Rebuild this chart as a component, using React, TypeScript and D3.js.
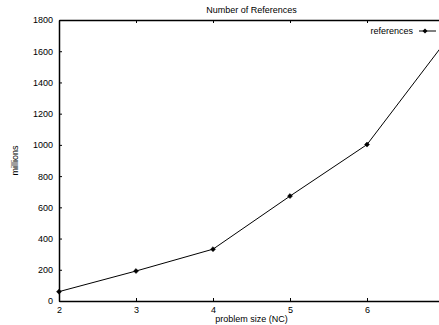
import React, { useEffect, useRef } from "react";
import * as d3 from "d3";

const problemSizes = [2, 3, 4, 5, 6, 7];
const references = [60, 192, 332, 672, 1002, 1650];
const yTicks = [0, 200, 400, 600, 800, 1000, 1200, 1400, 1600, 1800];
const xTicks = [2, 3, 4, 5, 6];

const App: React.FC = () => {
  const svgRef = useRef<SVGSVGElement | null>(null);

  useEffect(() => {
    const svg = d3.select(svgRef.current);
    svg.selectAll("*").remove();

    const w = 439;
    const h = 325;
    const m = { top: 20, right: -5, bottom: 24, left: 59 };
    const font = "'Liberation Sans', Arial, sans-serif";

    const x = d3.scaleLinear().domain([2, 7]).range([m.left, w - m.right]);
    const y = d3.scaleLinear().domain([0, 1800]).range([h - m.bottom, m.top]);

    svg.append("rect").attr("width", w).attr("height", h).attr("fill", "#fff");

    // left axis with inward ticks
    const left = svg.append("g")
      .attr("transform", `translate(${m.left},0)`)
      .call(d3.axisLeft(y).tickValues(yTicks).tickFormat(d3.format("d")).tickSizeInner(-3).tickSizeOuter(0).tickPadding(6));

    // bottom axis
    const bottom = svg.append("g")
      .attr("transform", `translate(0,${h - m.bottom})`)
      .call(d3.axisBottom(x).tickValues(xTicks).tickFormat(d3.format("d")).tickSizeInner(-3).tickSizeOuter(0).tickPadding(6));

    // top mirror
    const top = svg.append("g")
      .attr("transform", `translate(0,${m.top})`)
      .call(d3.axisTop(x).tickValues(xTicks).tickSizeInner(-3).tickSizeOuter(0).tickFormat(() => ""));

    [left, bottom, top].forEach(g => {
      g.select(".domain").attr("stroke", "#000").attr("stroke-width", 1.5);
      g.selectAll(".tick line").attr("stroke", "#000");
      g.selectAll(".tick text")
        .attr("fill", "#000")
        .style("font-family", font)
        .style("font-size", "9px");
    });

    // title + axis labels
    svg.append("text")
      .attr("x", (m.left + w - m.right) / 2)
      .attr("y", 13)
      .attr("text-anchor", "middle")
      .style("font-family", font)
      .style("font-size", "9px")
      .text("Number of References");

    svg.append("text")
      .attr("x", (m.left + w - m.right) / 2)
      .attr("y", 322)
      .attr("text-anchor", "middle")
      .style("font-family", font)
      .style("font-size", "9px")
      .text("problem size (NC)");

    svg.append("text")
      .attr("transform", `translate(18,${(m.top + h - m.bottom) / 2}) rotate(-90)`)
      .attr("text-anchor", "middle")
      .style("font-family", font)
      .style("font-size", "9px")
      .text("millions");

    // data line
    const pts = problemSizes.map((p, i) => [p, references[i]] as [number, number]);
    const line = d3.line<[number, number]>().x(d => x(d[0])).y(d => y(d[1]));

    svg.append("path")
      .datum(pts)
      .attr("fill", "none")
      .attr("stroke", "#000")
      .attr("stroke-width", 1)
      .attr("d", line);

    const sym = d3.symbol().type(d3.symbolDiamond2).size(16);
    svg.selectAll(".pt")
      .data(pts)
      .enter()
      .append("path")
      .attr("class", "pt")
      .attr("transform", d => `translate(${x(d[0])},${y(d[1])})`)
      .attr("d", sym)
      .attr("fill", "#000")
      .attr("stroke", "#000")
      .attr("stroke-width", 0.5);

    // legend
    const key = svg.append("g").attr("transform", `translate(0,31)`);
    key.append("text")
      .attr("x", 413)
      .attr("y", 3)
      .attr("text-anchor", "end")
      .style("font-family", font)
      .style("font-size", "9px")
      .text("references");
    key.append("line")
      .attr("x1", 419).attr("x2", 436)
      .attr("y1", 0).attr("y2", 0)
      .attr("stroke", "#000");
    key.append("path")
      .attr("transform", "translate(425,0)")
      .attr("d", sym)
      .attr("fill", "#000");
  }, []);

  return (
    <div style={{ position: "fixed", left: 0, top: 0, width: 439, height: 325 }}>
      <svg ref={svgRef} width={439} height={325} style={{ display: "block" }}></svg>
    </div>
  );
};

export default App;
